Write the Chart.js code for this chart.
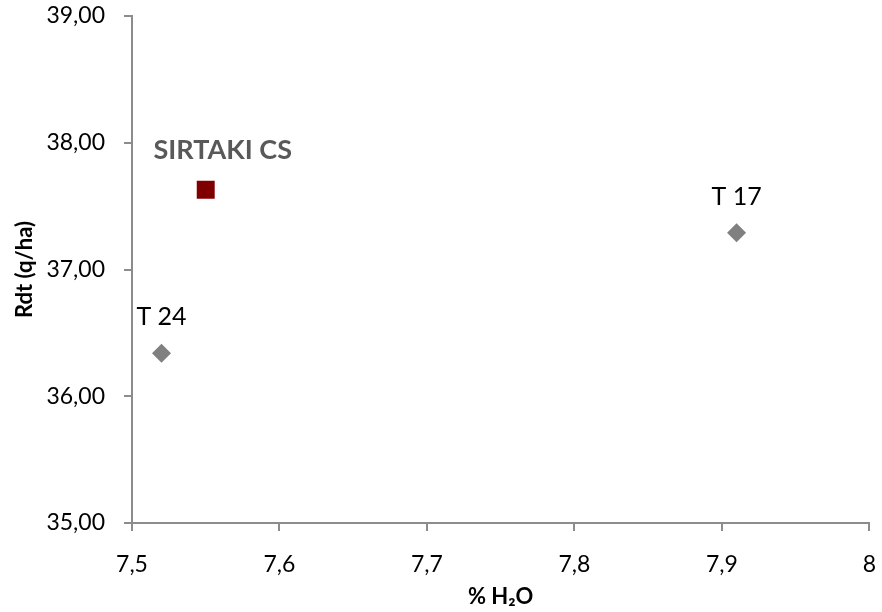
<!DOCTYPE html>
<html>
<head>
<meta charset="utf-8">
<script src="https://cdn.jsdelivr.net/npm/chart.js@4.4.0/dist/chart.umd.min.js"></script>
<style>
  html, body { margin: 0; padding: 0; background: #ffffff; }
  #wrap { width: 882px; height: 612px; position: relative; }
</style>
</head>
<body>
<div id="wrap"><canvas id="c"></canvas></div>
<script>
// Data
const otherNames = ["T 24", "T 17"];
const otherX = [7.52, 7.91];
const otherY = [36.34, 37.29];
const refNames = ["SIRTAKI CS"];
const refX = [7.55];
const refY = [37.63];
const xTicks = [7.5, 7.6, 7.7, 7.8, 7.9, 8];
const yTicks = [35, 36, 37, 38, 39];
const xTitle = "% H\u2082O";
const yTitle = "Rdt (q/ha)";

const FONT = "Lato, 'Open Sans', sans-serif";
const AXIS = "#8c8c8c";

const pointLabels = {
  id: 'pointLabels',
  afterDatasetsDraw(chart) {
    const ctx = chart.ctx;
    ctx.save();
    chart.data.datasets.forEach((ds, di) => {
      const meta = chart.getDatasetMeta(di);
      meta.data.forEach((el, i) => {
        const name = ds.names[i];
        ctx.font = ds.labelFont;
        ctx.fillStyle = ds.labelColor;
        ctx.textAlign = 'center';
        ctx.textBaseline = 'middle';
        ctx.fillText(name, el.x + ds.labelDx, el.y + ds.labelDy);
      });
    });
    ctx.restore();
  }
};

new Chart(document.getElementById('c'), {
  type: 'scatter',
  data: {
    datasets: [
      {
        label: 'Témoins',
        names: otherNames,
        data: otherX.map((x, i) => ({ x: x, y: otherY[i] })),
        pointStyle: 'rectRot',
        pointRadius: 9.5,
        pointHoverRadius: 9.5,
        backgroundColor: '#808080',
        borderColor: '#808080',
        borderWidth: 0,
        labelFont: "25px " + FONT,
        labelColor: '#000000',
        labelDx: 0,
        labelDy: -36
      },
      {
        label: 'Référence',
        names: refNames,
        data: refX.map((x, i) => ({ x: x, y: refY[i] })),
        pointStyle: 'rect',
        pointRadius: 12.7,
        pointHoverRadius: 12.7,
        backgroundColor: '#800000',
        borderColor: '#800000',
        borderWidth: 0,
        labelFont: "bold 27px " + FONT,
        labelColor: '#595959',
        labelDx: 17,
        labelDy: -39
      }
    ]
  },
  options: {
    responsive: true,
    maintainAspectRatio: false,
    animation: false,
    events: [],
    layout: { padding: { top: 0, right: 0, left: 0, bottom: 0 } },
    plugins: {
      legend: { display: false },
      tooltip: { enabled: false }
    },
    scales: {
      x: {
        type: 'linear',
        min: xTicks[0],
        max: xTicks[xTicks.length - 1],
        afterBuildTicks(scale) { scale.ticks = xTicks.map(v => ({ value: v })); },
        afterFit(scale) {
          scale.height = 89;
          scale.paddingLeft = 0;
          scale.paddingRight = 11.5;
        },
        ticks: {
          color: '#000000',
          font: { family: FONT, size: 23 },
          padding: 20,
          maxRotation: 0,
          autoSkip: false,
          callback: v => String(v).replace('.', ',')
        },
        grid: { drawOnChartArea: false, drawTicks: true, tickLength: 8, color: AXIS, lineWidth: 2 },
        border: { display: true, color: AXIS, width: 2 },
        title: {
          display: true,
          text: xTitle,
          color: '#000000',
          font: { family: FONT, size: 22, weight: 'bold' },
          padding: { top: 0, bottom: 2 }
        }
      },
      y: {
        type: 'linear',
        min: yTicks[0],
        max: yTicks[yTicks.length - 1],
        afterBuildTicks(scale) { scale.ticks = yTicks.map(v => ({ value: v })); },
        afterFit(scale) {
          scale.width = 132;
          scale.paddingTop = 16;
          scale.paddingBottom = 0;
        },
        ticks: {
          color: '#000000',
          font: { family: FONT, size: 23 },
          padding: 19,
          callback: v => Number(v).toFixed(2).replace('.', ',')
        },
        grid: { drawOnChartArea: false, drawTicks: true, tickLength: 8, color: AXIS, lineWidth: 2 },
        border: { display: true, color: AXIS, width: 2 },
        title: {
          display: true,
          text: yTitle,
          color: '#000000',
          font: { family: FONT, size: 22, weight: 'bold' },
          padding: { top: 12, bottom: 0 }
        }
      }
    }
  },
  plugins: [pointLabels]
});
</script>
</body>
</html>
